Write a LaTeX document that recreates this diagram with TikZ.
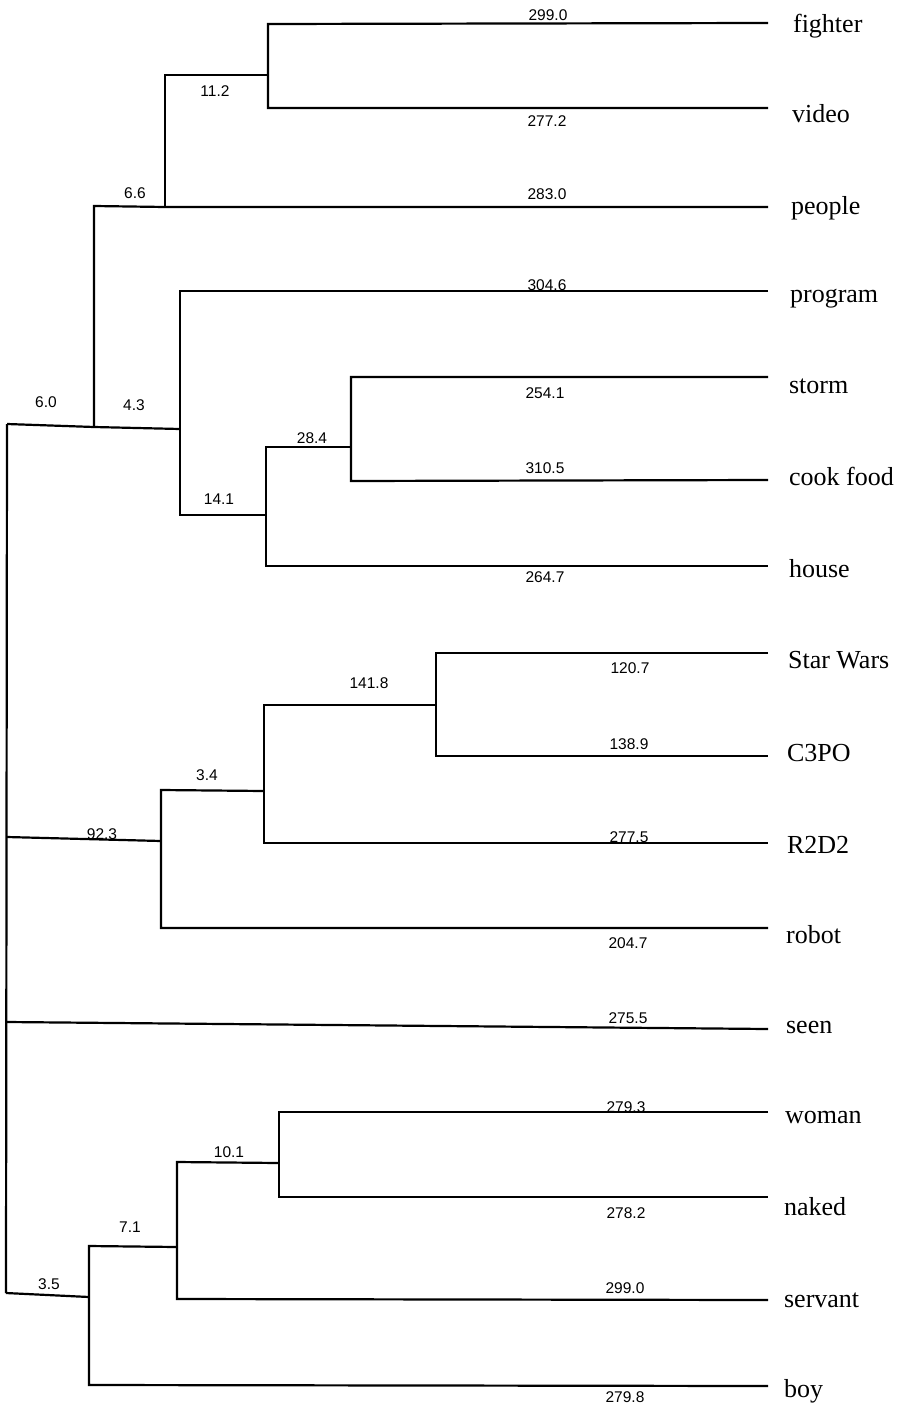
\documentclass[tikz,border=0pt]{standalone}
\usepackage{fontspec}
\setmainfont{Liberation Serif}
\newfontfamily\numfont{Liberation Sans}
\begin{document}
\begin{tikzpicture}[x=1pt,y=-1pt,line width=2.2pt,line join=miter,
  leaf/.style={anchor=base west,inner sep=0pt,font=\fontsize{26}{26}\selectfont},
  len/.style={anchor=base,inner sep=0pt,font=\numfont\fontsize{15.5}{15.5}\selectfont}]
\useasboundingbox (0,0) rectangle (901,1407);
% leaf ends
\coordinate (e-fighter) at (768,23);
\coordinate (e-video) at (768,108);
\coordinate (e-people) at (768,207);
\coordinate (e-program) at (768,291);
\coordinate (e-storm) at (768,377);
\coordinate (e-cook) at (768,480);
\coordinate (e-house) at (768,566);
\coordinate (e-star) at (768,653);
\coordinate (e-c3po) at (768,756);
\coordinate (e-r2d2) at (768,843);
\coordinate (e-robot) at (768,928);
\coordinate (e-seen) at (768,1029);
\coordinate (e-woman) at (768,1112);
\coordinate (e-naked) at (768,1197);
\coordinate (e-servant) at (768,1300);
\coordinate (e-boy) at (768,1386);
% leaf labels
\node[leaf] (fighter) at (792,33) {fighter};
\node[leaf] (video) at (791,123) {video};
\node[leaf] (people) at (790,214) {people};
\node[leaf] (program) at (789,302) {program};
\node[leaf] (storm) at (788,393) {storm};
\node[leaf] (cook) at (788,485) {cook food};
\node[leaf] (house) at (788,577) {house};
\node[leaf] (star) at (787,668) {Star Wars};
\node[leaf] (c3po) at (786,761) {C3PO};
\node[leaf] (r2d2) at (786,853) {R2D2};
\node[leaf] (robot) at (785,943) {robot};
\node[leaf] (seen) at (785,1033) {seen};
\node[leaf] (woman) at (784,1123) {woman};
\node[leaf] (naked) at (783,1215) {naked};
\node[leaf] (servant) at (783,1307) {servant};
\node[leaf] (boy) at (783,1397) {boy};
% root
\coordinate (R1) at (7,424);
\coordinate (R2) at (7,837);
\coordinate (R3) at (7,1022);
\coordinate (R4) at (6,1293);
\draw (R1) -- (R4);
% upper clade
\coordinate (C) at (94,427);
\coordinate (Ct) at (94,206);
\coordinate (B) at (165,207);
\coordinate (Bt) at (165,75);
\coordinate (A) at (268,75);
\coordinate (At) at (268,24);
\coordinate (Ab) at (268,108);
\coordinate (D) at (180,429);
\coordinate (Dt) at (180,291);
\coordinate (Db) at (180,515);
\coordinate (E) at (266,515);
\coordinate (Et) at (266,447);
\coordinate (Eb) at (266,566);
\coordinate (F) at (351,447);
\coordinate (Ft) at (351,377);
\coordinate (Fb) at (351,481);
\draw (R1) -- (C) -- (D);
\draw (C) -- (Ct) -- (B) -- (e-people);
\draw (B) -- (Bt) -- (A);
\draw (e-fighter) -- (At) -- (Ab) -- (e-video);
\draw (e-program) -- (Dt) -- (Db) -- (E);
\draw (F) -- (Et) -- (Eb) -- (e-house);
\draw (e-storm) -- (Ft) -- (Fb) -- (e-cook);
% middle clade
\coordinate (G) at (161,841);
\coordinate (Gt) at (161,790);
\coordinate (Gb) at (161,928);
\coordinate (H) at (264,791);
\coordinate (Ht) at (264,705);
\coordinate (Hb) at (264,843);
\coordinate (I) at (436,705);
\coordinate (It) at (436,653);
\coordinate (Ib) at (436,756);
\draw (R2) -- (G);
\draw (H) -- (Gt) -- (Gb) -- (e-robot);
\draw (I) -- (Ht) -- (Hb) -- (e-r2d2);
\draw (e-star) -- (It) -- (Ib) -- (e-c3po);
\draw (R3) -- (e-seen);
% lower clade
\coordinate (J) at (89,1297);
\coordinate (Jt) at (89,1246);
\coordinate (Jb) at (89,1385);
\coordinate (K) at (177,1247);
\coordinate (Kt) at (177,1162);
\coordinate (Kb) at (177,1299);
\coordinate (L) at (279,1163);
\coordinate (Lt) at (279,1112);
\coordinate (Lb) at (279,1197);
\draw (R4) -- (J);
\draw (K) -- (Jt) -- (Jb) -- (e-boy);
\draw (L) -- (Kt) -- (Kb) -- (e-servant);
\draw (e-woman) -- (Lt) -- (Lb) -- (e-naked);
% branch lengths
\node[len] (l1) at (548,21) {299.0};
\node[len] (l2) at (547,127) {277.2};
\node[len] (l3) at (547,200) {283.0};
\node[len] (l4) at (547,290) {304.6};
\node[len] (l5) at (545,398) {254.1};
\node[len] (l6) at (545,473) {310.5};
\node[len] (l7) at (545,582) {264.7};
\node[len] (l8) at (630,673) {120.7};
\node[len] (l9) at (629,749) {138.9};
\node[len] (l10) at (629,842) {277.5};
\node[len] (l11) at (628,948) {204.7};
\node[len] (l12) at (628,1023) {275.5};
\node[len] (l13) at (626,1112) {279.3};
\node[len] (l14) at (626,1218) {278.2};
\node[len] (l15) at (625,1293) {299.0};
\node[len] (l16) at (625,1402) {279.8};
\node[len] (i1) at (215,97) {11.2};
\node[len] (i2) at (135,199) {6.6};
\node[len] (i3) at (46,407) {6.0};
\node[len] (i4) at (134,410) {4.3};
\node[len] (i5) at (312,443) {28.4};
\node[len] (i6) at (219,504) {14.1};
\node[len] (i7) at (369,688) {141.8};
\node[len] (i8) at (207,780) {3.4};
\node[len] (i9) at (102,839) {92.3};
\node[len] (i10) at (229,1157) {10.1};
\node[len] (i11) at (130,1232) {7.1};
\node[len] (i12) at (49,1289) {3.5};
\end{tikzpicture}
\end{document}
